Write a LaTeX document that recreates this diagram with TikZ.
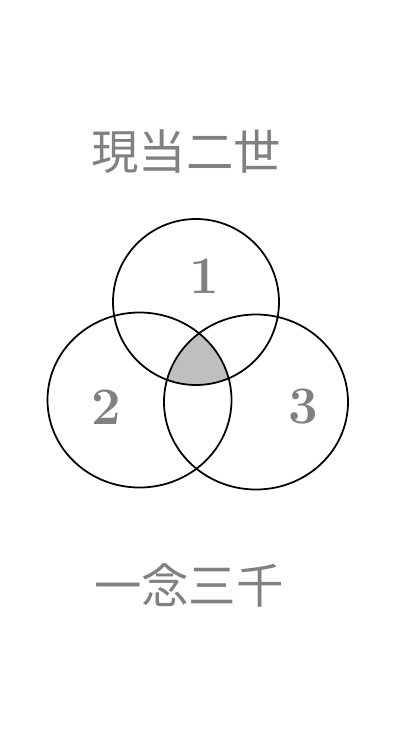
\documentclass[tikz,border=0pt]{standalone}
\usepackage{fontspec}
\newfontfamily\cjk{Noto Sans CJK JP}
\usetikzlibrary{positioning}

\begin{document}
\begin{tikzpicture}[
    x=0.02cm, y=-0.02cm,
    ring/.style={draw=black, line width=1pt},
    digit/.style={text=gray, font=\bfseries\fontsize{30}{36}\selectfont, inner sep=0pt},
    caption/.style={text=gray, font=\cjk\fontsize{27}{32}\selectfont, inner sep=0pt}
]
    \useasboundingbox (0,0) rectangle (410,751);

    % centres
    \coordinate (top) at (196,302);
    \coordinate (left) at (139.5,400);
    \coordinate (right) at (256,402);

    % common part
    \begin{scope}
        \clip (top) circle (83);
        \clip (left) ellipse (92 and 87.5);
        \fill[gray!50] (right) ellipse (92 and 87.5);
    \end{scope}

    % circles
    \draw[ring] (top) circle (83);
    \draw[ring] (left) ellipse (92 and 87.5);
    \draw[ring] (right) ellipse (92 and 87.5);

    % numbers
    \node[digit] (one) at (204,276) {1};
    \node[digit] (two) at (106.5,407) {2};
    \node[digit] (three) at (303,407) {3};

    % texts
    \node[caption] (upper) at (186,152) {現当二世};
    \node[caption] (lower) at (189,585) {一念三千};
\end{tikzpicture}
\end{document}
